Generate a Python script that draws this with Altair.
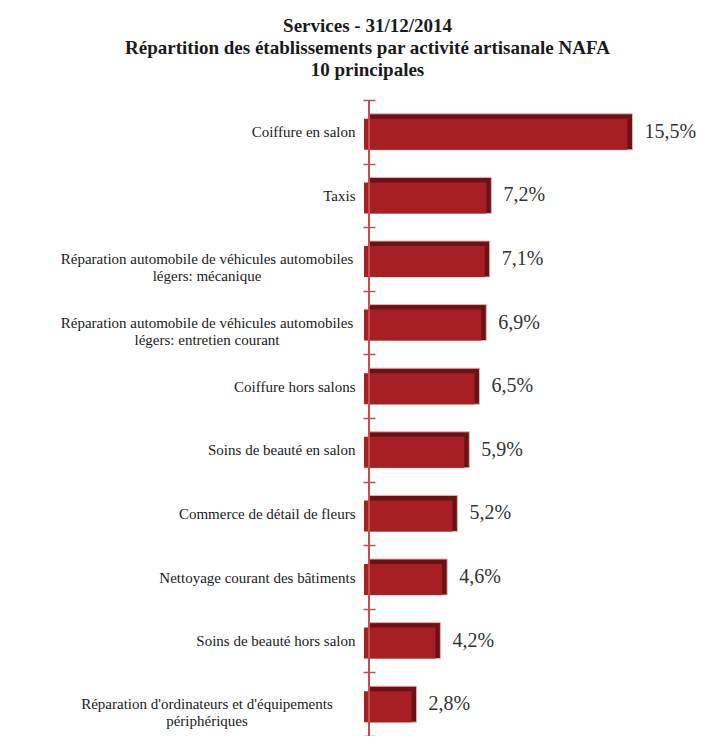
import altair as alt
import pandas as pd

categories = [
    "Coiffure en salon",
    "Taxis",
    "Réparation automobile de véhicules automobiles\nlégers: mécanique",
    "Réparation automobile de véhicules automobiles\nlégers: entretien courant",
    "Coiffure hors salons",
    "Soins de beauté en salon",
    "Commerce de détail de fleurs",
    "Nettoyage courant des bâtiments",
    "Soins de beauté hors salon",
    "Réparation d'ordinateurs et d'équipements\npériphériques",
]
values = [15.5, 7.2, 7.1, 6.9, 6.5, 5.9, 5.2, 4.6, 4.2, 2.8]
title_lines = [
    "Services - 31/12/2014",
    "Répartition des établissements par activité artisanale NAFA",
    "10 principales",
]

df = pd.DataFrame({"cat": categories, "v": values})

SERIF = "Liberation Serif"
AXC = "#c0504d"
H = 636

yscale = alt.Scale(domain=categories, paddingInner=0, paddingOuter=0)
xscale = alt.Scale(domain=[0, 19])

y_enc = alt.Y(
    "cat:N",
    sort=categories,
    title=None,
    scale=yscale,
    axis=alt.Axis(
        labelExpr="indexof(datum.label, '\\n') >= 0 ? '' : datum.label",
        labelAlign="right",
        labelPadding=8,
        labelFont=SERIF,
        labelFontSize=15,
        labelColor="#1a1a1a",
        labelLimit=400,
        tickBand="extent",
        tickSize=12,
        offset=-6,
        domain=False,
        tickColor=AXC,
        tickWidth=1.5,
    ),
)
x_enc = alt.X("v:Q", scale=xscale, axis=None)

base = alt.Chart(df)

domain_line = base.mark_rule(color=AXC, strokeWidth=1.5).encode(
    x=alt.value(0), y=alt.value(0), y2=alt.value(H)
)
dark = base.mark_bar(color="#6e1014", stroke="#eab0b0", strokeWidth=1, size=36).encode(
    x=x_enc, y=y_enc
)
main = base.mark_bar(color="#a51f24", size=31, yOffset=2.5, xOffset=-5).encode(
    x=x_enc, y=alt.Y("cat:N", sort=categories, scale=yscale)
)
text = base.transform_calculate(
    lab="replace(format(datum.v, '.1f'), '.', ',') + '%'"
).mark_text(
    align="left", baseline="middle", dx=12, font=SERIF, fontSize=20, color="#333333"
).encode(
    x=x_enc,
    y=alt.Y("cat:N", sort=categories, scale=yscale),
    text="lab:N",
)
multi_labels = base.transform_filter(
    "indexof(datum.cat, '\\n') >= 0"
).mark_text(
    align="center", baseline="middle", lineBreak="\n", font=SERIF, fontSize=15,
    color="#1a1a1a", lineHeight=17, dx=-162,
).encode(
    x=alt.value(0),
    y=alt.Y("cat:N", sort=categories, scale=yscale),
    text="cat:N",
)

chart = (
    alt.layer(dark, main, domain_line, text, multi_labels)
    .properties(
        width=323,
        height=H,
        autosize=alt.AutoSizeParams(type="none"),
        padding={"left": 361, "top": 92, "right": 8, "bottom": 0},
        title=alt.TitleParams(
            text=title_lines,
            font=SERIF,
            fontSize=19,
            fontWeight="bold",
            color="#1a1a1a",
            anchor="middle",
            dx=-163,
            offset=13,
            lineHeight=22,
        ),
    )
    .configure_view(stroke=None)
)

chart.save("out.html", embed_options={"renderer": "svg", "actions": False})
